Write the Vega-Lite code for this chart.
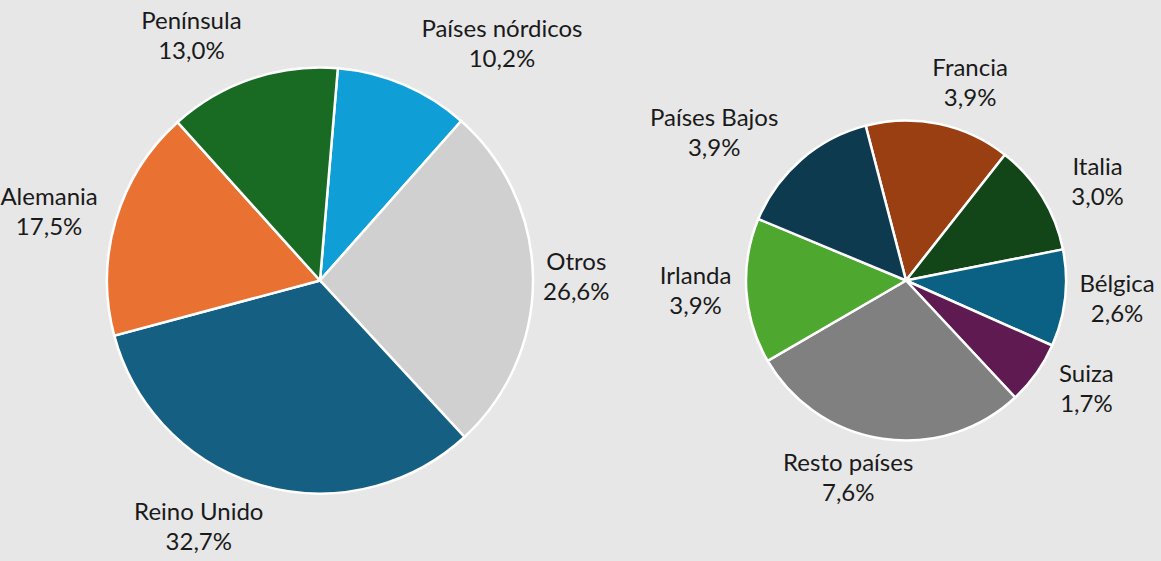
{
  "$schema": "https://vega.github.io/schema/vega-lite/v6.json",
  "background": "#e7e7e7",
  "padding": 0,
  "spacing": 11,
  "bounds": "flush",
  "config": {"view": {"stroke": null}, "text": {"font": "Lato"}},
  "resolve": {"scale": {"color": "independent", "theta": "independent"}},
  "hconcat": [
    {
      "width": 640,
      "height": 561,
      "data": {"values": [
        {"name": "Países nórdicos", "value": 10.2, "pct": "10,2%", "i": 1},
        {"name": "Otros", "value": 26.6, "pct": "26,6%", "i": 2},
        {"name": "Reino Unido", "value": 32.7, "pct": "32,7%", "i": 3},
        {"name": "Alemania", "value": 17.5, "pct": "17,5%", "i": 4},
        {"name": "Península", "value": 13.0, "pct": "13,0%", "i": 5}
      ]},
      "encoding": {
        "theta": {"field": "value", "type": "quantitative", "stack": true, "scale": {"range": [0.0838, 6.3670]}},
        "order": {"field": "i", "type": "quantitative"},
        "detail": {"field": "name", "type": "nominal"}
      },
      "layer": [
        {
          "mark": {"type": "arc", "radius": 213, "stroke": "white", "strokeWidth": 2.5},
          "encoding": {
            "color": {"field": "name", "type": "nominal", "legend": null,
              "scale": {"domain": ["Países nórdicos", "Otros", "Reino Unido", "Alemania", "Península"],
                        "range": ["#0f9ed5", "#d0d0d0", "#156082", "#e97132", "#196b24"]}}
          }
        },
        {
          "mark": {"type": "text", "dy": -15, "fontSize": 24, "fill": "#1a1a1a",
            "radius": {"expr": "229+30*abs(cos(scale('concat_0_theta',(datum.value_start+datum.value_end)/2)))"},
            "dx": {"expr": "clamp(sin(scale('concat_0_theta',(datum.value_start+datum.value_end)/2))*3,-1,1)*max(length(datum.name),length(datum.pct))*5.4"}},
          "encoding": {"text": {"field": "name"}}
        },
        {
          "mark": {"type": "text", "dy": 15, "fontSize": 24, "fill": "#1a1a1a",
            "radius": {"expr": "229+30*abs(cos(scale('concat_0_theta',(datum.value_start+datum.value_end)/2)))"},
            "dx": {"expr": "clamp(sin(scale('concat_0_theta',(datum.value_start+datum.value_end)/2))*3,-1,1)*max(length(datum.name),length(datum.pct))*5.4"}},
          "encoding": {"text": {"field": "pct"}}
        }
      ]
    },
    {
      "width": 510,
      "height": 561,
      "data": {"values": [
        {"name": "Francia", "value": 3.9, "pct": "3,9%", "i": 1},
        {"name": "Italia", "value": 3.0, "pct": "3,0%", "i": 2},
        {"name": "Bélgica", "value": 2.6, "pct": "2,6%", "i": 3},
        {"name": "Suiza", "value": 1.7, "pct": "1,7%", "i": 4},
        {"name": "Resto países", "value": 7.6, "pct": "7,6%", "i": 5},
        {"name": "Irlanda", "value": 3.9, "pct": "3,9%", "i": 6},
        {"name": "Países Bajos", "value": 3.9, "pct": "3,9%", "i": 7}
      ]},
      "encoding": {
        "theta": {"field": "value", "type": "quantitative", "stack": true, "scale": {"range": [-0.2548, 6.0284]}},
        "order": {"field": "i", "type": "quantitative"},
        "detail": {"field": "name", "type": "nominal"}
      },
      "layer": [
        {
          "mark": {"type": "arc", "radius": 160, "stroke": "white", "strokeWidth": 2.5},
          "encoding": {
            "color": {"field": "name", "type": "nominal", "legend": null,
              "scale": {"domain": ["Francia", "Italia", "Bélgica", "Suiza", "Resto países", "Irlanda", "Países Bajos"],
                        "range": ["#9a3f12", "#124517", "#0b6183", "#601a52", "#808080", "#4ea72e", "#0e3a50"]}}
          }
        },
        {
          "mark": {"type": "text", "dy": -15, "fontSize": 24, "fill": "#1a1a1a",
            "radius": {"expr": "171+30*abs(cos(scale('concat_1_theta',(datum.value_start+datum.value_end)/2)))"},
            "dx": {"expr": "clamp(sin(scale('concat_1_theta',(datum.value_start+datum.value_end)/2))*3,-1,1)*max(length(datum.name),length(datum.pct))*5.4"}},
          "encoding": {"text": {"field": "name"}}
        },
        {
          "mark": {"type": "text", "dy": 15, "fontSize": 24, "fill": "#1a1a1a",
            "radius": {"expr": "171+30*abs(cos(scale('concat_1_theta',(datum.value_start+datum.value_end)/2)))"},
            "dx": {"expr": "clamp(sin(scale('concat_1_theta',(datum.value_start+datum.value_end)/2))*3,-1,1)*max(length(datum.name),length(datum.pct))*5.4"}},
          "encoding": {"text": {"field": "pct"}}
        }
      ]
    }
  ]
}
